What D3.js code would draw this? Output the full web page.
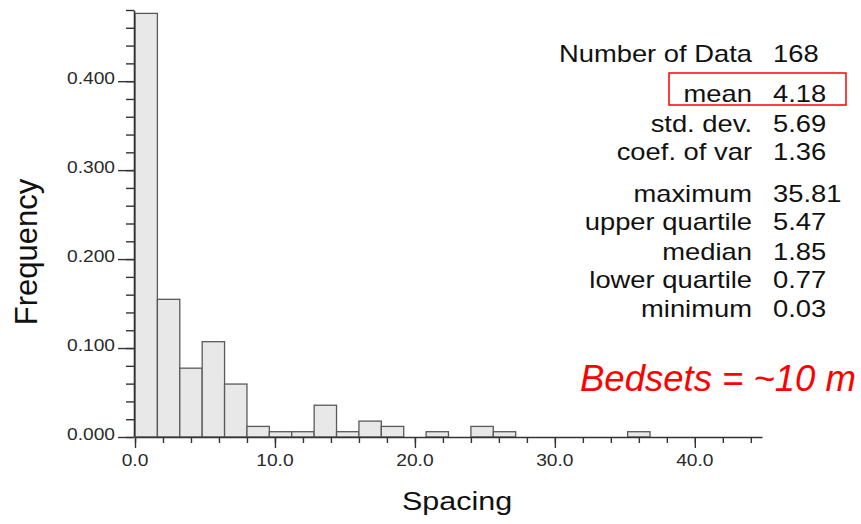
<!DOCTYPE html>
<html>
<head>
<meta charset="utf-8">
<script src="https://cdn.jsdelivr.net/npm/d3@7/dist/d3.min.js"></script>
<style>
  body { margin: 0; background: #fff; }
  svg text { font-family: "Liberation Sans", Arial, sans-serif; }
</style>
</head>
<body>
<div id="chart"></div>
<script>
// histogram bins (width 1.6), counts out of 168 samples
var binWidth = 1.6;
var binStarts = [0, 1.6, 3.2, 4.8, 6.4, 8.0, 9.6, 11.2, 12.8, 14.4, 16.0, 17.6, 19.2, 20.8,
                 22.4, 24.0, 25.6, 27.2, 28.8, 30.4, 32.0, 33.6, 35.2, 36.8, 38.4, 40.0, 41.6, 43.2];
var binCounts = [80, 26, 13, 18, 10, 2, 1, 1, 6, 1, 3, 2, 0, 1,
                 0, 2, 1, 0, 0, 0, 0, 0, 1, 0, 0, 0, 0, 0];
var nData = 168;

var yMajor = [0, 0.1, 0.2, 0.3, 0.4];
var xMajor = [0, 10, 20, 30, 40];

var statLabels = ['Number of Data', 'mean', 'std. dev.', 'coef. of var',
                  'maximum', 'upper quartile', 'median', 'lower quartile', 'minimum'];
var statValues = ['168', '4.18', '5.69', '1.36', '35.81', '5.47', '1.85', '0.77', '0.03'];
var statBase = [62, 102, 132, 160, 202, 230, 260, 288, 317];

var W = 861, H = 524;
var svg = d3.select('#chart').append('svg')
    .attr('width', W).attr('height', H);

var x = d3.scaleLinear().domain([0, 44.8]).range([135, 762]);
var y = d3.scaleLinear().domain([0, 0.48]).range([437, 10]);

// stretched text helper (source picture is widened horizontally)
function stext(g, px, py, str, size, sx, anchor, fill) {
    return g.append('text')
        .attr('transform', 'translate(' + px + ',' + py + ') scale(' + sx + ',1)')
        .attr('text-anchor', anchor)
        .style('font-size', size + 'px')
        .attr('fill', fill)
        .text(str);
}

// bars
var bars = binStarts.map(function(s, i) { return {x0: s, x1: s + binWidth, f: binCounts[i] / nData}; })
    .filter(function(d) { return d.f > 0; });

svg.append('g').selectAll('rect').data(bars).enter().append('rect')
    .attr('x', function(d) { return x(d.x0); })
    .attr('width', function(d) { return x(d.x1) - x(d.x0); })
    .attr('y', function(d) { return y(d.f); })
    .attr('height', function(d) { return y(0) - y(d.f); })
    .attr('fill', '#e8e8e8')
    .attr('stroke', '#5a5a5a')
    .attr('stroke-width', 1.3);

// y axis
var yMinor = d3.range(0, 0.4801, 0.02);
svg.append('g').attr('transform', 'translate(134,0)')
    .call(d3.axisLeft(y).tickValues(yMinor).tickSize(8).tickSizeOuter(0).tickFormat(''))
    .call(function(g) { g.select('.domain').attr('stroke-width', 1.6); });
svg.append('g').attr('transform', 'translate(134,0)')
    .call(d3.axisLeft(y).tickValues(yMajor).tickSize(16).tickSizeOuter(0).tickFormat(''))
    .call(function(g) { g.select('.domain').remove(); });

// x axis
var xMinor = d3.range(0, 44.01, 2);
svg.append('g').attr('transform', 'translate(0,437)')
    .call(d3.axisBottom(x).tickValues(xMinor).tickSize(6).tickSizeOuter(0).tickFormat(''))
    .call(function(g) { g.select('.domain').attr('stroke-width', 1.6); });
svg.append('g').attr('transform', 'translate(0,437)')
    .call(d3.axisBottom(x).tickValues(xMajor).tickSize(11).tickSizeOuter(0).tickFormat(''))
    .call(function(g) { g.select('.domain').remove(); });

svg.selectAll('.tick line').attr('stroke', '#333').attr('stroke-width', 1.4);
svg.selectAll('.domain').attr('stroke', '#333');

// tick labels
var labels = svg.append('g');
yMajor.forEach(function(v) {
    stext(labels, 115, y(v) + 2.5, d3.format('.3f')(v), 16, 1.2, 'end', '#2a2a2a');
});
xMajor.forEach(function(v) {
    stext(labels, x(v), 466, d3.format('.1f')(v), 16, 1.2, 'middle', '#2a2a2a');
});

// axis titles
svg.append('text')
    .attr('transform', 'translate(37,252) rotate(-90)')
    .attr('text-anchor', 'middle')
    .style('font-size', '31px')
    .attr('fill', '#111')
    .text('Frequency');
stext(svg, 457, 510, 'Spacing', 25, 1.22, 'middle', '#111');

// statistics block
var stats = svg.append('g');
statLabels.forEach(function(l, i) {
    stext(stats, 752, statBase[i], l, 23, 1.19, 'end', '#111');
    stext(stats, 773, statBase[i], statValues[i], 23, 1.19, 'start', '#111');
});

// highlight box around mean
svg.append('rect')
    .attr('x', 669).attr('y', 73)
    .attr('width', 177).attr('height', 32)
    .attr('fill', 'none')
    .attr('stroke', '#ff0000')
    .attr('stroke-width', 1.5);

// annotation
svg.append('text')
    .attr('x', 580).attr('y', 391)
    .style('font-size', '36.5px')
    .style('font-style', 'italic')
    .attr('fill', '#ff0000')
    .text('Bedsets = ~10 m');
</script>
</body>
</html>
